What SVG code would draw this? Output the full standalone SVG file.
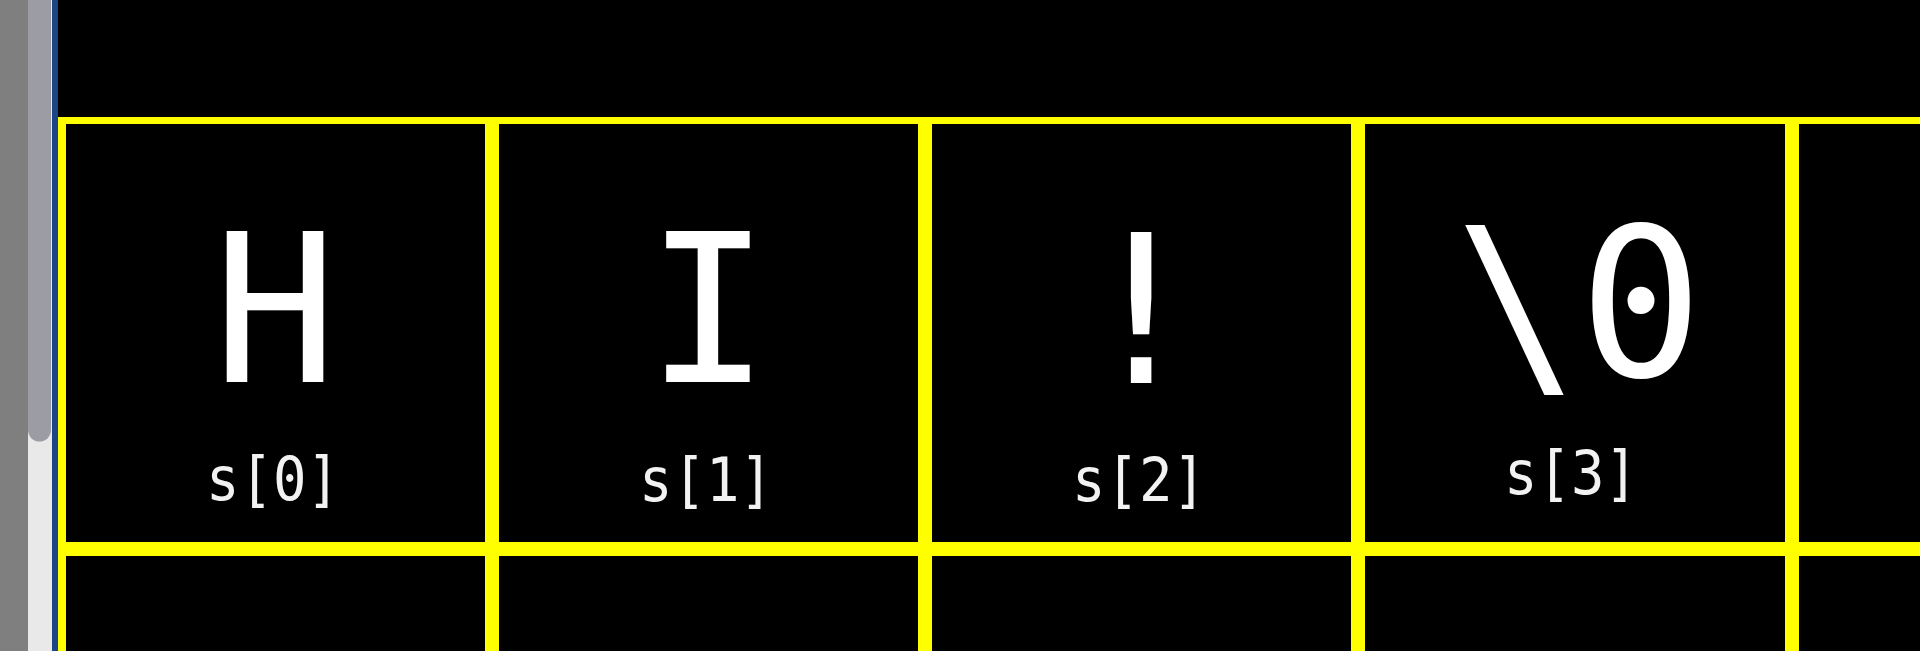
<svg xmlns="http://www.w3.org/2000/svg" width="1920" height="651" viewBox="0 0 1920 651">
  <style>
    .grid { fill: #ffff00; }
    .big { font-family: Consolas, "DejaVu Sans Mono", "Liberation Mono", monospace; font-size: 206px; fill: #ffffff; text-anchor: middle; }
    .lbl { font-family: Consolas, "DejaVu Sans Mono", "Liberation Mono", monospace; font-size: 60px; fill: #f2f2f2; text-anchor: middle; }
  </style>
  <rect x="0" y="0" width="1920" height="651" fill="#000000"/>
  <g id="window-edge">
    <rect x="0" y="0" width="28" height="651" fill="#7f7f7f"/>
    <rect x="28" y="0" width="24" height="651" fill="#e9e9e9"/>
    <path d="M28 0 H51 V430 A11.5 11.5 0 0 1 28 430 Z" fill="#9c9ca4"/>
    <rect x="52" y="0" width="6" height="651" fill="#1f4684"/>
  </g>
  <g id="grid">
    <rect class="grid" x="58" y="117" width="1862" height="7"/>
    <rect class="grid" x="58" y="542" width="1862" height="14"/>
    <rect class="grid" x="58" y="117" width="8" height="534"/>
    <rect class="grid" x="485" y="117" width="14" height="534"/>
    <rect class="grid" x="918" y="117" width="14" height="534"/>
    <rect class="grid" x="1351" y="117" width="14" height="534"/>
    <rect class="grid" x="1785" y="117" width="14" height="534"/>
  </g>
  <g id="cell-s0">
    <text class="big" x="275" y="382">H</text>
    <text class="lbl" x="273" y="500" textLength="134" lengthAdjust="spacingAndGlyphs">s[0]</text>
  </g>
  <g id="cell-s1">
    <text class="big" x="708" y="382">I</text>
    <text class="lbl" x="706" y="501" textLength="134" lengthAdjust="spacingAndGlyphs">s[1]</text>
  </g>
  <g id="cell-s2">
    <text class="big" x="1141" y="383">!</text>
    <text class="lbl" x="1139" y="501" textLength="134" lengthAdjust="spacingAndGlyphs">s[2]</text>
  </g>
  <g id="cell-s3">
    <text class="big" x="1579" y="376">\0</text>
    <text class="lbl" x="1571" y="494" textLength="134" lengthAdjust="spacingAndGlyphs">s[3]</text>
  </g>
</svg>
